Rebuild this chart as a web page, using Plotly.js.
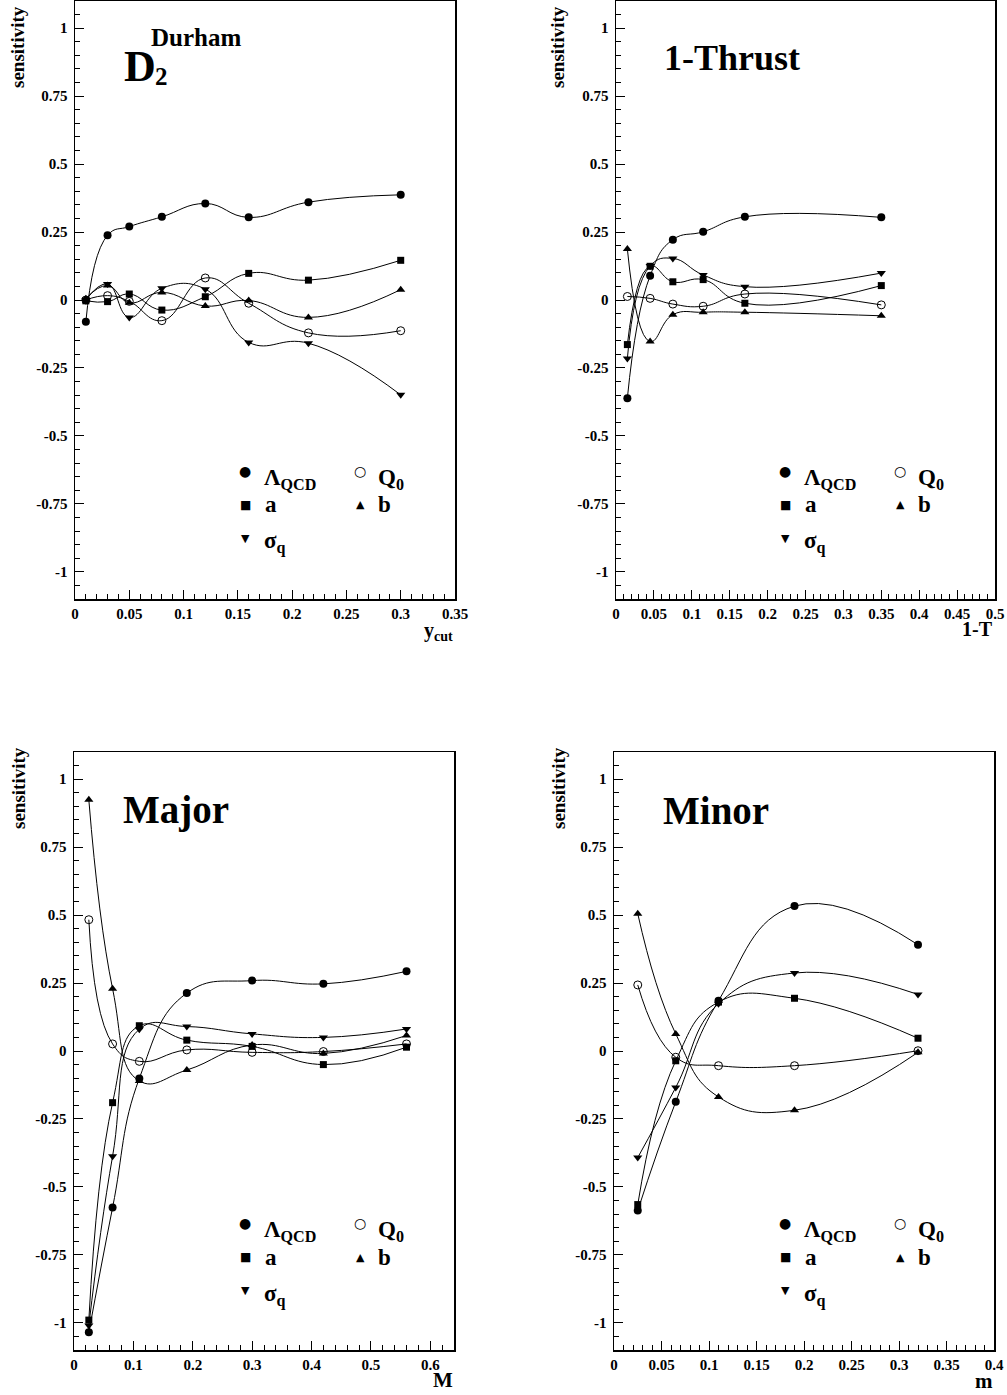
<!DOCTYPE html>
<html><head><meta charset="utf-8">
<script src="https://cdn.plot.ly/plotly-3.0.1.min.js"></script>
<style>html,body{margin:0;padding:0;background:#fff}#chart{width:1007px;height:1395px}</style>
</head><body><div id="chart"></div>
<script>
// ---------------- data ----------------
const xD2 = [0.01, 0.03, 0.05, 0.08, 0.12, 0.16, 0.215, 0.3];
const d2Lambda = [-0.08, 0.238, 0.27, 0.306, 0.355, 0.304, 0.36, 0.387];
const d2Q0     = [0.0, 0.016, -0.005, -0.076, 0.081, -0.012, -0.121, -0.113];
const d2A      = [-0.003, -0.006, 0.022, -0.037, 0.012, 0.098, 0.073, 0.146];
const d2B      = [0.005, 0.053, -0.01, 0.028, -0.022, -0.002, -0.064, 0.038];
const d2Sigma  = [0.0, 0.059, -0.064, 0.043, 0.04, -0.156, -0.159, -0.349];

const xThr = [0.015, 0.045, 0.075, 0.115, 0.17, 0.35];
const thrLambda = [-0.361, 0.089, 0.222, 0.251, 0.306, 0.304];
const thrQ0     = [0.013, 0.006, -0.015, -0.023, 0.022, -0.018];
const thrA      = [-0.164, 0.124, 0.067, 0.075, -0.012, 0.053];
const thrB      = [0.1875, -0.153, -0.054, -0.045, -0.045, -0.058];
const thrSigma  = [-0.215, 0.125, 0.153, 0.092, 0.049, 0.099];

const xMaj = [0.025, 0.065, 0.11, 0.19, 0.3, 0.42, 0.56];
const majLambda = [-1.035, -0.576, -0.101, 0.213, 0.259, 0.247, 0.293];
const majQ0     = [0.483, 0.026, -0.038, 0.004, -0.005, -0.002, 0.026];
const majA      = [-0.99, -0.19, 0.093, 0.04, 0.017, -0.05, 0.014];
const majB      = [0.924, 0.229, -0.11, -0.07, 0.022, -0.009, 0.057];
const majSigma  = [-1.01, -0.387, 0.08, 0.09, 0.063, 0.05, 0.081];

const xMin = [0.025, 0.065, 0.11, 0.19, 0.32];
const minLambda = [-0.587, -0.187, 0.185, 0.533, 0.391];
const minQ0     = [0.243, -0.023, -0.054, -0.054, 0.001];
const minA      = [-0.565, -0.036, 0.18, 0.194, 0.047];
const minB      = [0.505, 0.063, -0.169, -0.218, -0.005];
const minSigma  = [-0.392, -0.134, 0.174, 0.287, 0.208];

const yTickVals = [1, 0.75, 0.5, 0.25, 0, -0.25, -0.5, -0.75, -1];
const yTickText = ['1', '0.75', '0.5', '0.25', '0', '-0.25', '-0.5', '-0.75', '-1'];
const xTickD2  = ['0','0.05','0.1','0.15','0.2','0.25','0.3','0.35'];
const xTickThr = ['0','0.05','0.1','0.15','0.2','0.25','0.3','0.35','0.4','0.45','0.5'];
const xTickMaj = ['0','0.1','0.2','0.3','0.4','0.5','0.6'];
const xTickMin = ['0','0.05','0.1','0.15','0.2','0.25','0.3','0.35','0.4'];

// ---------------- build ----------------
const W = 1007, H = 1395;
const F = '"Liberation Serif", "Times New Roman", serif';
const fx = p => p / W;
const fy = p => 1 - p / H;

const traces = [];
function series(xs, ys, sym, n) {
  const open = sym === 'circle-open';
  traces.push({
    type: 'scatter', mode: 'lines+markers', x: xs, y: ys,
    xaxis: 'x' + (n === 1 ? '' : n), yaxis: 'y' + (n === 1 ? '' : n),
    showlegend: false, hoverinfo: 'skip', cliponaxis: false,
    line: {shape: 'spline', smoothing: 1.3, color: '#000', width: 1},
    marker: {symbol: sym, size: open ? 8 : (sym === 'square' ? 7 : 8), color: '#000',
             line: {color: '#000', width: open ? 1 : 0}}
  });
}
function panel(xs, L, Q, A, B, S, n) {
  series(xs, L, 'circle', n);
  series(xs, Q, 'circle-open', n);
  series(xs, A, 'square', n);
  series(xs, B, 'triangle-up', n);
  series(xs, S, 'triangle-down', n);
}
panel(xD2, d2Lambda, d2Q0, d2A, d2B, d2Sigma, 1);
panel(xThr, thrLambda, thrQ0, thrA, thrB, thrSigma, 2);
panel(xMaj, majLambda, majQ0, majA, majB, majSigma, 3);
panel(xMin, minLambda, minQ0, minA, minB, minSigma, 4);

const tickFont = {family: F, size: 15, color: '#000', weight: 'bold'};
function xax(l, r, range, labels, major, minor, anchor) {
  return {
    domain: [fx(l), fx(r)], range: range, anchor: anchor,
    tickmode: 'array', tickvals: labels.map(Number), ticktext: labels,
    ticks: 'inside', ticklen: 9, tickwidth: 1, tickcolor: '#000',
    minor: {tick0: 0, dtick: minor, ticks: 'inside', ticklen: 5, tickwidth: 1, tickcolor: '#000', showgrid: false},
    showline: true, linewidth: 1.5, linecolor: '#000', mirror: true,
    showgrid: false, zeroline: false, tickfont: tickFont, fixedrange: true
  };
}
function yax(t, b, anchor) {
  return {
    domain: [fy(b), fy(t)], range: [-1.1, 1.1], anchor: anchor,
    tickmode: 'array', tickvals: yTickVals, ticktext: yTickText,
    ticks: 'inside', ticklen: 9, tickwidth: 1, tickcolor: '#000',
    minor: {tick0: 0, dtick: 0.05, ticks: 'inside', ticklen: 5, tickwidth: 1, tickcolor: '#000', showgrid: false},
    showline: true, linewidth: 1.5, linecolor: '#000', mirror: true,
    showgrid: false, zeroline: false, tickfont: tickFont, fixedrange: true,
    ticklabelstandoff: 3
  };
}

const ann = [];
function txt(text, x, y, size, xa, ya, extra) {
  ann.push(Object.assign({
    text: text, xref: 'paper', yref: 'paper', x: fx(x), y: fy(y),
    xanchor: xa || 'left', yanchor: ya || 'middle', showarrow: false,
    font: {family: F, size: size, color: '#000', weight: 'bold'}
  }, extra || {}));
}
// y-axis titles
txt('sensitivity', 18, 47, 19, 'center', 'middle', {textangle: -90});
txt('sensitivity', 558, 47, 19, 'center', 'middle', {textangle: -90});
txt('sensitivity', 18, 788, 19, 'center', 'middle', {textangle: -90});
txt('sensitivity', 558, 788, 19, 'center', 'middle', {textangle: -90});
// x-axis titles
txt('y<sub>cut</sub>', 455, 632, 20, 'right', 'middle');
txt('1-T', 995, 629, 20, 'right', 'middle');
txt('M', 455, 1380, 21, 'right', 'middle');
txt('m', 995, 1381, 21, 'right', 'middle');
// panel titles
txt('D', 122, 67, 44, 'left', 'middle');
txt('2', 153, 76, 25, 'left', 'middle');
txt('Durham', 149, 38, 25, 'left', 'middle');
txt('1-Thrust', 662, 58, 36, 'left', 'middle');
txt('Major', 121, 810, 39, 'left', 'middle');
txt('Minor', 661, 810, 39, 'left', 'middle');
// legends
const G = '"DejaVu Sans", sans-serif';
function legend(ox, oy) {
  const g = (ch, x, y, s) => ann.push({text: ch, xref: 'paper', yref: 'paper', x: fx(x), y: fy(y),
      xanchor: 'center', yanchor: 'middle', showarrow: false, font: {family: G, size: s, color: '#000'}});
  g('●', ox + 245, oy + 471, 14);
  txt('Λ<sub>QCD</sub>', ox + 262, oy + 479, 23);
  g('○', ox + 360, oy + 471, 14);
  txt('Q<sub>0</sub>', ox + 376, oy + 479, 23);
  g('■', ox + 245, oy + 505, 12);
  txt('a', ox + 263, oy + 505, 23);
  g('▲', ox + 360, oy + 505, 11);
  txt('b', ox + 376, oy + 505, 23);
  g('▼', ox + 245, oy + 538, 11);
  txt('σ<sub>q</sub>', ox + 262, oy + 543, 23);
}
legend(0, 0); legend(540, 0); legend(0, 752); legend(540, 752);

const layout = {
  width: W, height: H, margin: {l: 0, r: 0, t: 0, b: 0},
  paper_bgcolor: '#fff', plot_bgcolor: '#fff', showlegend: false,
  font: {family: F, color: '#000'},
  xaxis:  xax(75, 455, [0, 0.35], xTickD2, 0.05, 0.01, 'y'),
  yaxis:  yax(1, 599, 'x'),
  xaxis2: xax(616, 995, [0, 0.5], xTickThr, 0.05, 0.01, 'y2'),
  yaxis2: yax(1, 599, 'x2'),
  xaxis3: xax(74, 454, [0, 0.64], xTickMaj, 0.1, 0.02, 'y3'),
  yaxis3: yax(752, 1350, 'x3'),
  xaxis4: xax(614, 994, [0, 0.4], xTickMin, 0.05, 0.01, 'y4'),
  yaxis4: yax(752, 1350, 'x4'),
  annotations: ann
};
Plotly.newPlot('chart', traces, layout, {displayModeBar: false, staticPlot: true});
</script></body></html>
